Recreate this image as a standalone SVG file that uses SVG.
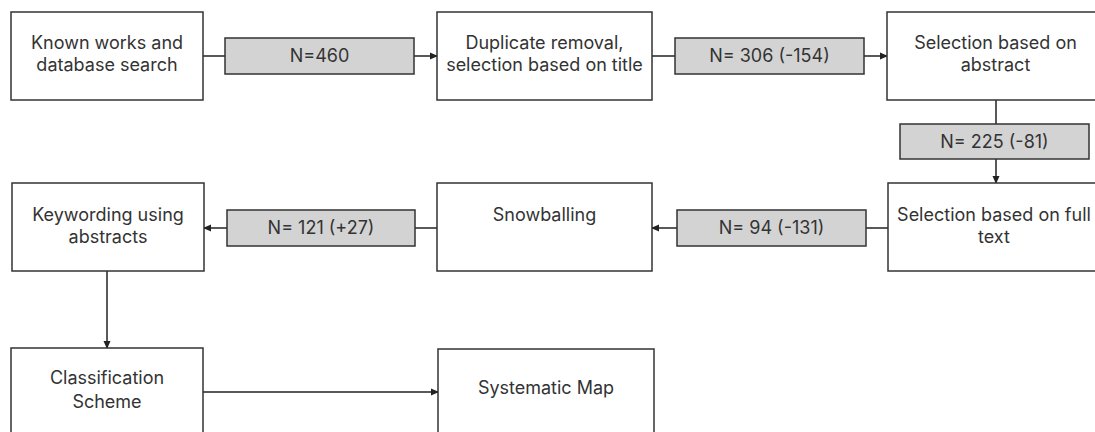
<svg xmlns="http://www.w3.org/2000/svg" width="1095" height="432" viewBox="0 0 1095 432">
<defs>
<marker id="arr" markerWidth="8" markerHeight="8" refX="7" refY="4" orient="auto" markerUnits="userSpaceOnUse">
<path d="M0,0.5 L8,4 L0,7.5 Z" fill="#222"/>
</marker>
<style>
.box{fill:#fff;stroke:#333;stroke-width:1.5}
.lbl{fill:#d3d3d3;stroke:#333;stroke-width:1.5}
.t{font-family:Inter,"Liberation Sans",sans-serif;font-size:18px;fill:#333;text-anchor:middle}
.c{fill:none;stroke:#222;stroke-width:1.5}
</style>
</defs>
<rect width="1095" height="432" fill="#fff"/>
<g id="connectors">
<line class="c" x1="203" y1="56" x2="225" y2="56"/>
<line class="c" x1="414" y1="56" x2="437" y2="56" marker-end="url(#arr)"/>
<line class="c" x1="652" y1="56" x2="675" y2="56"/>
<line class="c" x1="864" y1="56" x2="887" y2="56" marker-end="url(#arr)"/>
<line class="c" x1="996" y1="100" x2="996" y2="124"/>
<line class="c" x1="996" y1="159" x2="996" y2="183" marker-end="url(#arr)"/>
<line class="c" x1="888" y1="228" x2="866" y2="228"/>
<line class="c" x1="677" y1="228" x2="652" y2="228" marker-end="url(#arr)"/>
<line class="c" x1="437" y1="228" x2="415" y2="228"/>
<line class="c" x1="227" y1="228" x2="204" y2="228" marker-end="url(#arr)"/>
<line class="c" x1="107" y1="271" x2="107" y2="348" marker-end="url(#arr)"/>
<line class="c" x1="203" y1="392" x2="438" y2="392" marker-end="url(#arr)"/>
</g>
<g id="n1"><rect class="box" x="11" y="12" width="192" height="88"/><text class="t" x="107" y="49">Known works and</text><text class="t" x="107" y="71">database search</text></g>
<g id="l1"><rect class="lbl" x="225" y="38" width="189" height="36"/><text class="t" x="319.5" y="62">N=460</text></g>
<g id="n2"><rect class="box" x="437" y="12" width="215" height="88"/><text class="t" x="544.5" y="49">Duplicate removal,</text><text class="t" x="544.5" y="71">selection based on title</text></g>
<g id="l2"><rect class="lbl" x="675" y="38" width="189" height="36"/><text class="t" x="769.5" y="62">N= 306 (-154)</text></g>
<g id="n3"><rect class="box" x="887" y="12" width="217" height="88"/><text class="t" x="995.5" y="49">Selection based on</text><text class="t" x="995.5" y="71">abstract</text></g>
<g id="l3"><rect class="lbl" x="900" y="124" width="189" height="35"/><text class="t" x="994.5" y="148">N= 225 (-81)</text></g>
<g id="n4"><rect class="box" x="888" y="183" width="216" height="88"/><text class="t" x="994" y="221">Selection based on full</text><text class="t" x="994" y="243">text</text></g>
<g id="l4"><rect class="lbl" x="677" y="210" width="189" height="36"/><text class="t" x="771.5" y="234">N= 94 (-131)</text></g>
<g id="n5"><rect class="box" x="437" y="183" width="215" height="88"/><text class="t" x="544.5" y="221">Snowballing</text></g>
<g id="l5"><rect class="lbl" x="227" y="210" width="188" height="36"/><text class="t" x="321" y="234">N= 121 (+27)</text></g>
<g id="n6"><rect class="box" x="12" y="183" width="192" height="88"/><text class="t" x="108" y="221">Keywording using</text><text class="t" x="108" y="243">abstracts</text></g>
<g id="n7"><rect class="box" x="11" y="348" width="192" height="90"/><text class="t" x="107" y="384">Classification</text><text class="t" x="107" y="408">Scheme</text></g>
<g id="n8"><rect class="box" x="438" y="349" width="216" height="90"/><text class="t" x="546" y="394">Systematic Map</text></g>
</svg>
